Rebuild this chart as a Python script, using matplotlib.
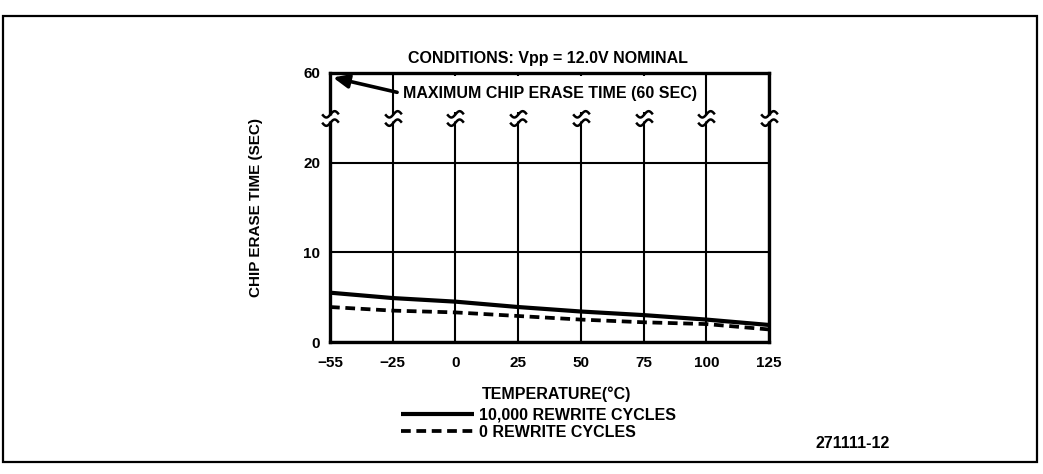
import numpy as np
import matplotlib
matplotlib.use("Agg")
import matplotlib.pyplot as plt
from matplotlib.path import Path
from matplotlib.patches import Rectangle

plt.rcParams['font.family'] = ['Liberation Sans', 'DejaVu Sans']
plt.rcParams['font.weight'] = 'bold'

# ---- data ----
temperature = [-55, -25, 0, 25, 50, 75, 100, 125]
erase_10k = [5.5, 4.9, 4.5, 3.9, 3.4, 3.0, 2.5, 1.9]
erase_0 = [3.9, 3.5, 3.3, 2.9, 2.5, 2.2, 2.0, 1.4]
x_ticks = [-55, -25, 0, 25, 50, 75, 100, 125]
x_ticklabels = ['\u221255', '\u221225', '0', '25', '50', '75', '100', '125']
y_ticks = [0, 10, 20, 60]
y_ticklabels = ['0', '10', '20', '60']
y_break = 40
max_time = 60
title = 'CONDITIONS: Vpp = 12.0V NOMINAL'
annot_text = 'MAXIMUM CHIP ERASE TIME (60 SEC)'
series_labels = ['10,000 REWRITE CYCLES', '0 REWRITE CYCLES']

W, H = 1043, 474
FS = 11.5
fig = plt.figure(figsize=(W / 100, H / 100), dpi=100)
ax = fig.add_axes([330 / W, 132 / H, 439 / W, 269 / H])


def yfwd(v):
    v = np.asarray(v, dtype=float)
    return np.where(v <= 20, v, 20 + (v - 20) / 4)


def yinv(p):
    p = np.asarray(p, dtype=float)
    return np.where(p <= 20, p, 20 + (p - 20) * 4)


def xfwd(x):
    x = np.asarray(x, dtype=float)
    return np.where(x >= -25, x, -25 + (x + 25) * 25 / 30)


def xinv(p):
    p = np.asarray(p, dtype=float)
    return np.where(p >= -25, p, -25 + (p + 25) * 30 / 25)


ax.set_yscale('function', functions=(yfwd, yinv))
ax.set_xscale('function', functions=(xfwd, xinv))
ax.set_xlim(-55, 125)
ax.set_ylim(0, max_time)
ax.set_xticks(x_ticks)
ax.set_xticklabels(x_ticklabels)
ax.set_yticks(y_ticks)
ax.set_yticklabels(y_ticklabels)
ax.minorticks_off()
ax.tick_params(axis='both', length=0, labelsize=11)
ax.tick_params(axis='x', pad=10)
ax.tick_params(axis='y', pad=7)
ax.grid(True, color='black', lw=1.5, zorder=1)
ax.set_axisbelow(True)
for s in ax.spines.values():
    s.set_linewidth(2.4)
    s.set_zorder(2)

ax.plot(temperature, erase_10k, color='black', lw=3.0, solid_capstyle='butt', zorder=4)
ax.plot(temperature, erase_0, color='black', lw=2.7, dashes=(2.6, 1.5), zorder=4)

# axis break squiggles
gap = Path([(-1, -0.38), (1, -0.38), (1, 0.38), (-1, 0.38), (-1, -0.38)],
           [Path.MOVETO, Path.LINETO, Path.LINETO, Path.LINETO, Path.CLOSEPOLY])
t = np.linspace(-1, 1, 31)
wave = 0.38 * np.sin(np.pi * t)
verts = list(zip(t, wave + 0.5)) + list(zip(t, wave - 0.5))
codes = ([Path.MOVETO] + [Path.LINETO] * 30) * 2
squig = Path(verts, codes)
yb = [y_break] * len(x_ticks)
ax.plot(x_ticks, yb, ls='none', marker=gap, markersize=12, markerfacecolor='white',
        markeredgecolor='none', clip_on=False, zorder=5)
ax.plot(x_ticks, yb, ls='none', marker=squig, markersize=12, markerfacecolor='none',
        markeredgecolor='black', markeredgewidth=1.8, clip_on=False, zorder=6)

ann = ax.annotate(annot_text, xy=(-53.6, 58), xytext=(-21, 50.8),
                  fontsize=FS, fontweight='bold', va='center', ha='left',
                  bbox=dict(boxstyle='square,pad=0.1', fc='white', ec='none'),
                  arrowprops=dict(arrowstyle='-|>,head_length=0.8,head_width=0.35',
                                  color='black', lw=2.6, shrinkA=3, shrinkB=0,
                                  relpos=(0, 0.5)), zorder=8)

ax.set_ylabel('CHIP ERASE TIME (SEC)', fontsize=11, fontweight='bold')
ax.yaxis.set_label_coords(-0.153, 0.5)

fig.text(548 / W, 1 - 58 / H, title, ha='center', va='center', fontsize=FS, fontweight='bold')
fig.text(482 / W, 1 - 394 / H, 'TEMPERATURE(\u00b0C)', ha='left', va='center',
         fontsize=FS, fontweight='bold')
fig.text(815 / W, 1 - 444 / H, '271111-12', ha='left', va='center',
         fontsize=FS, fontweight='bold')

handles = ax.get_lines()[:2]
fig.legend(handles, series_labels, loc='upper left', bbox_to_anchor=(401 / W, 1 - 408 / H),
           frameon=False, fontsize=FS, handlelength=4.6, handletextpad=0.3,
           labelspacing=0.12, borderpad=0, borderaxespad=0)

# white background behind the annotation text (covers grid lines as in the original)
fig.canvas.draw()
bb = ann.get_bbox_patch().get_window_extent()
bg = Rectangle(((bb.x0 - 3) / W, (bb.y0 - 9) / H), (bb.width + 6) / W,
               (bb.height + 18) / H, transform=fig.transFigure,
               fc='white', ec='none', zorder=1.5, clip_on=False)
ax.add_artist(bg)

fig.add_artist(Rectangle((3 / W, 12 / H), 1034 / W, 446 / H, transform=fig.transFigure,
                         fill=False, ec='black', lw=1.6))

fig.savefig('out.png', dpi=100)
